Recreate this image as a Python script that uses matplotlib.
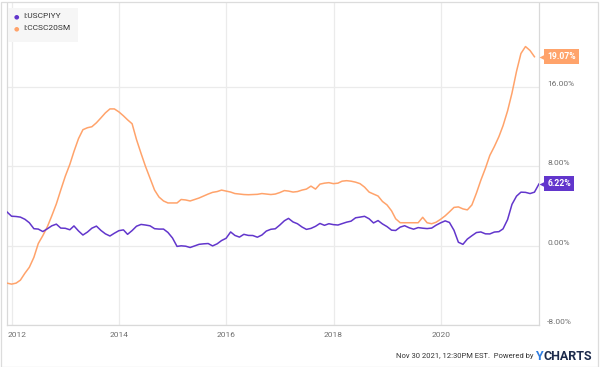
import matplotlib
matplotlib.use("Agg")
import matplotlib.pyplot as plt
import matplotlib.transforms as mtransforms
from matplotlib.patches import Rectangle
import pandas as pd

# US CPI YoY, monthly Nov 2011 - Oct 2021
cpi_yoy = [
    3.39, 2.96,
    2.93, 2.87, 2.65, 2.30, 1.70, 1.66, 1.41, 1.69, 1.99, 2.16, 1.76, 1.74,
    1.59, 1.98, 1.47, 1.06, 1.36, 1.75, 1.96, 1.52, 1.18, 0.96, 1.24, 1.50,
    1.58, 1.13, 1.51, 1.95, 2.13, 2.07, 1.99, 1.70, 1.66, 1.66, 1.32, 0.76,
    -0.09, -0.03, -0.07, -0.20, -0.04, 0.12, 0.17, 0.20, -0.04, 0.17, 0.50, 0.73,
    1.37, 1.02, 0.85, 1.13, 1.02, 1.01, 0.84, 1.06, 1.46, 1.64, 1.69, 2.07,
    2.50, 2.74, 2.38, 2.20, 1.87, 1.63, 1.73, 1.94, 2.23, 2.04, 2.20, 2.11,
    2.07, 2.21, 2.36, 2.46, 2.80, 2.87, 2.95, 2.70, 2.28, 2.52, 2.18, 1.91,
    1.55, 1.52, 1.86, 2.00, 1.79, 1.65, 1.81, 1.75, 1.71, 1.76, 2.05, 2.29,
    2.49, 2.33, 1.54, 0.33, 0.12, 0.65, 0.99, 1.31, 1.37, 1.18, 1.17, 1.36,
    1.40, 1.68, 2.62, 4.16, 4.99, 5.39, 5.37, 5.25, 5.39, 6.22,
]

# Case-Shiller 20-city home price YoY, monthly Nov 2011 - Sep 2021
cs20_yoy = [
    -3.8, -3.9,
    -3.8, -3.5, -2.8, -2.2, -1.2, 0.2, 1.0, 1.9, 3.0, 4.2, 5.6, 7.0,
    8.2, 9.5, 10.8, 11.7, 11.9, 12.0, 12.4, 12.9, 13.4, 13.8, 13.8, 13.5,
    13.1, 12.7, 12.3, 10.7, 9.3, 8.0, 6.8, 5.6, 4.9, 4.5, 4.3, 4.3,
    4.3, 4.65, 4.6, 4.5, 4.65, 4.8, 5.0, 5.2, 5.37, 5.45, 5.6, 5.5,
    5.4, 5.25, 5.2, 5.15, 5.13, 5.15, 5.17, 5.25, 5.2, 5.15, 5.2, 5.35,
    5.55, 5.5, 5.4, 5.45, 5.6, 5.7, 6.0, 5.7, 6.2, 6.3, 6.35, 6.25,
    6.3, 6.5, 6.55, 6.5, 6.4, 6.25, 5.9, 5.4, 5.2, 5.0, 4.45, 4.1,
    3.5, 2.7, 2.3, 2.3, 2.3, 2.3, 2.3, 2.85, 2.3, 2.2, 2.35, 2.65,
    3.0, 3.4, 3.85, 3.9, 3.7, 3.6, 4.1, 5.3, 6.6, 7.8, 9.1, 10.0,
    11.0, 12.1, 13.6, 15.4, 17.6, 19.4, 20.1, 19.7, 19.07,
]

series_names = ["I:USCPIYY", "I:CCSC20SM"]
series_colors = ["#6236cc", "#ffa36b"]
y_ticks = [-8, 0, 8, 16]
x_years = [2012, 2014, 2016, 2018, 2020]

cpi_dates = pd.date_range("2011-11-30", periods=len(cpi_yoy), freq="ME")
cs_dates = pd.date_range("2011-11-30", periods=len(cs20_yoy), freq="ME")

plt.rcParams["font.family"] = ["Roboto", "DejaVu Sans"]

fig = plt.figure(figsize=(6, 3.67), dpi=100)
ax = fig.add_axes([7 / 600, 1 - 325 / 367, 532 / 600, 322 / 367])

grid_col = "#ebebeb"
for y in y_ticks:
    ax.axhline(y, color=grid_col, lw=0.9, zorder=0)
for yr in x_years:
    ax.axvline(pd.Timestamp(f"{yr}-01-01"), color=grid_col, lw=0.9, zorder=0)

ax.plot(cs_dates, cs20_yoy, color=series_colors[1], lw=1.1, zorder=3)
ax.plot(cpi_dates, cpi_yoy, color=series_colors[0], lw=1.1, zorder=4)

ax.set_xlim(pd.Timestamp("2011-11-30"), pd.Timestamp("2021-10-31"))
ax.set_ylim(-8.03, 24.5)

for side in ["left", "bottom", "right"]:
    ax.spines[side].set_color("#d9d9d9")
    ax.spines[side].set_linewidth(0.9)
ax.spines["top"].set_visible(False)

ax.yaxis.tick_right()
ax.set_yticks(y_ticks)
ax.set_yticklabels([f"{v:.2f}%" for v in y_ticks])
ax.tick_params(axis="y", length=0, pad=6, labelsize=6, labelcolor="#6e6e6e")
off_y = mtransforms.ScaledTranslation(0, 3.5 / 100, fig.dpi_scale_trans)
for lab in ax.get_yticklabels():
    lab.set_transform(lab.get_transform() + off_y)
    lab.set_horizontalalignment("left")

ax.set_xticks([pd.Timestamp(f"{yr}-01-01") for yr in x_years])
ax.set_xticklabels([str(yr) for yr in x_years])
ax.tick_params(axis="x", length=0, pad=5, labelsize=6, labelcolor="#6e6e6e")
first = ax.get_xticklabels()[0]
first.set_transform(first.get_transform() +
                    mtransforms.ScaledTranslation(5 / 100, 0, fig.dpi_scale_trans))

# last value flags on the right
blend = mtransforms.blended_transform_factory(ax.transAxes, ax.transData)
for vals, col in [(cs20_yoy, series_colors[1]), (cpi_yoy, series_colors[0])]:
    v = vals[-1]
    tri = blend + mtransforms.ScaledTranslation(4.5 / 100, 0, fig.dpi_scale_trans)
    ax.plot([1.0], [v], marker="<", ms=6.5, color=col, mec="none",
            transform=tri, clip_on=False, zorder=6)
    txt = blend + mtransforms.ScaledTranslation(8.5 / 100, 0, fig.dpi_scale_trans)
    ax.text(1.0, v, f"{v:.2f}%", transform=txt, ha="left", va="center",
            fontsize=6.2, fontweight="bold", color="white", zorder=7,
            bbox=dict(boxstyle="square,pad=0.35", fc=col, ec="none"))

# legend
fig.patches.append(Rectangle((8 / 600, 1 - 42 / 367), 70 / 600, 34 / 367,
                             transform=fig.transFigure, fc="#f6f6f6", ec="none", zorder=5))
for i, (name, col) in enumerate(zip(series_names, series_colors)):
    yy = 1 - (16.5 + 12 * i) / 367
    fig.text(16 / 600, yy, "\u25cf", color=col, fontsize=4.5, ha="center", va="center",
             family=["DejaVu Sans"], zorder=6)
    fig.text(23 / 600, yy, name, color="#333333", fontsize=6, ha="left", va="center", zorder=6)

# footer
fig.text(533 / 600, 1 - 356 / 367, "Nov 30 2021, 12:30PM EST.  Powered by",
         ha="right", va="center", fontsize=5.5, color="#333333")
fig.text(535 / 600, 1 - 356 / 367, "Y", ha="left", va="center", fontsize=9,
         fontweight="bold", color="#2f7de1")
fig.text(592 / 600, 1 - 356 / 367, "CHARTS", ha="right", va="center", fontsize=9,
         fontweight="bold", color="#1d2b4c")

# outer frame
fig.patches.append(Rectangle((0.5 / 600, 0.5 / 367), 597 / 600, 365 / 367,
                             transform=fig.transFigure, fill=False, ec="#dcdcdc", lw=0.9))

fig.savefig("out.png", dpi=100)
